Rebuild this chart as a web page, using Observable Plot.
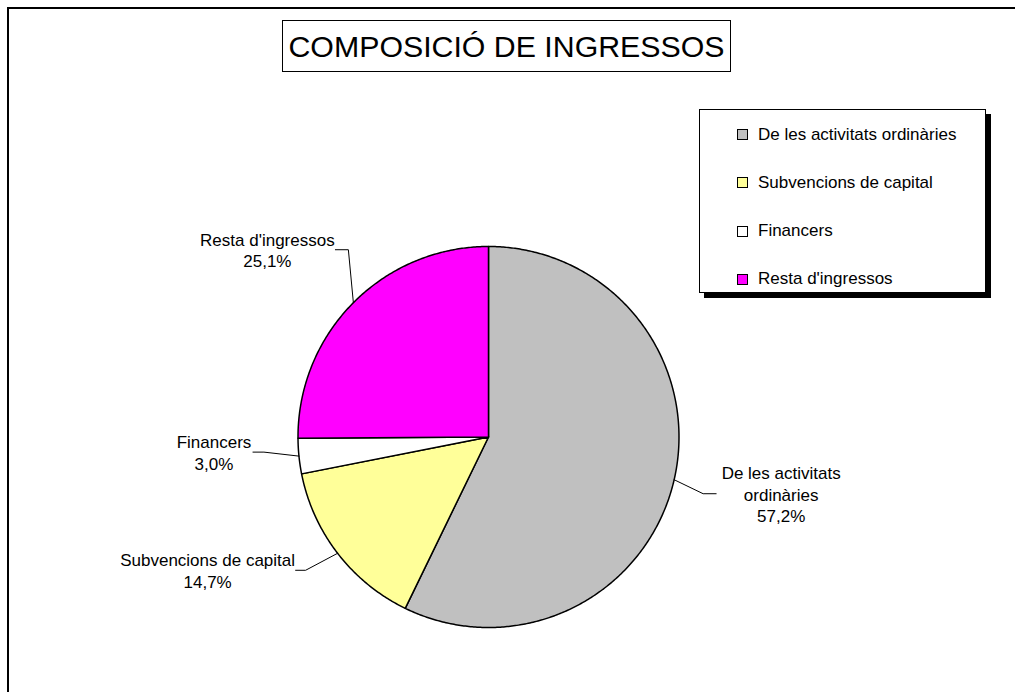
<!DOCTYPE html>
<html>
<head>
<meta charset="utf-8">
<script src="https://cdn.jsdelivr.net/npm/d3@7"></script>
<script src="https://cdn.jsdelivr.net/npm/@observablehq/plot@0.6"></script>
<style>
  html, body { margin: 0; padding: 0; background: #fff; }
  body { font-family: "Liberation Sans", Arial, sans-serif; }
  #wrap { position: relative; width: 1015px; height: 692px; overflow: hidden; background: #fff; }
  #frame { position: absolute; left: 7px; top: 7px; width: 1100px; height: 800px;
           border-left: 2px solid #000; border-top: 2px solid #000; }
  #chart { position: absolute; left: 0; top: 0; }
  #title { position: absolute; left: 282px; top: 20px; width: 447px; height: 50px;
           border: 1px solid #000; background: #fff; text-align: center;
           font-size: 30.3px; line-height: 51px; color: #000; white-space: nowrap; }
  #legend { position: absolute; left: 699px; top: 109px; width: 285px; height: 182px;
            border: 1.5px solid #000; background: #fff; box-shadow: 5px 5px 0 #000; }
  .item { position: absolute; left: 37px; height: 20px; display: flex; align-items: center;
          font-size: 17px; color: #000; white-space: nowrap; }
  .sw { width: 9px; height: 9px; border: 1px solid #000; margin-right: 10px; flex: none; }
</style>
</head>
<body>
<div id="wrap">
  <div id="frame"></div>
  <div id="chart"></div>
  <div id="title"></div>
  <div id="legend"></div>
</div>
<script>
// ---- data ----
const title = "COMPOSICIÓ DE INGRESSOS";
const categories = ["De les activitats ordinàries", "Subvencions de capital", "Financers", "Resta d'ingressos"];
const shares = [57.2, 14.7, 3.0, 25.1];
const percentLabels = ["57,2%", "14,7%", "3,0%", "25,1%"];
const sliceLabels = ["De les activitats\nordinàries", "Subvencions de capital", "Financers", "Resta d'ingressos"];
const colors = ["#C0C0C0", "#FFFF99", "#FFFFFF", "#FF00FF"];

// ---- layout (pixels) ----
const R = 190.5;
const leaderLayout = [
  {elbow: [29, 14], run: 13, dx: 65},
  {elbow: [-32, 17], run: -10, dx: -88},
  {elbow: [-35, -4], run: -11, dx: -39},
  {elbow: [-5, -53], run: -13, dx: -68}
];

const arcs = d3.pie().sort(null).value(d => d)(shares);

const slices = arcs.map(a => {
  const n = Math.max(2, Math.ceil((a.endAngle - a.startAngle) / (Math.PI / 360)));
  const pts = [{x: 0, y: 0}];
  for (let k = 0; k <= n; k++) {
    const t = a.startAngle + (a.endAngle - a.startAngle) * k / n;
    pts.push({x: Math.sin(t), y: Math.cos(t)});
  }
  return pts;
});

const leaders = arcs.map((a, i) => {
  const m = (a.startAngle + a.endAngle) / 2;
  const L = leaderLayout[i];
  const edge = {x: Math.sin(m), y: Math.cos(m)};
  const elbow = {x: edge.x + L.elbow[0] / R, y: edge.y - L.elbow[1] / R};
  const end = {x: elbow.x + L.run / R, y: elbow.y};
  return [edge, elbow, end];
});

const labelData = arcs.map((a, i) => ({
  x: leaders[i][2].x,
  y: leaders[i][2].y,
  text: sliceLabels[i] + "\n" + percentLabels[i],
  dx: leaderLayout[i].dx
}));

const W = 1015, H = 692, cx = 488, cy = 436.5;

const chart = Plot.plot({
  width: W,
  height: H,
  marginLeft: cx - R,
  marginRight: W - (cx + R),
  marginTop: cy - R,
  marginBottom: H - (cy + R),
  x: {domain: [-1, 1], axis: null},
  y: {domain: [-1, 1], axis: null},
  style: {fontFamily: "'Liberation Sans', Arial, sans-serif", background: "transparent", overflow: "visible", color: "#000"},
  marks: [
    ...slices.map((pts, i) => Plot.line(pts, {
      x: "x", y: "y", curve: "linear-closed",
      fill: colors[i], stroke: "#000", strokeWidth: 1.5, strokeLinejoin: "round"
    })),
    ...leaders.map(pts => Plot.line(pts, {x: "x", y: "y", stroke: "#000", strokeWidth: 1})),
    ...labelData.map(d => Plot.text([d], {
      x: "x", y: "y", text: "text", dx: d.dx,
      textAnchor: "middle", lineAnchor: "middle", lineHeight: 1.25,
      fontSize: 17, fill: "#000"
    }))
  ]
});
document.getElementById("chart").appendChild(chart);

document.getElementById("title").textContent = title;

const legend = document.getElementById("legend");
categories.forEach((c, i) => {
  const it = document.createElement("div");
  it.className = "item";
  it.style.top = (24 - 10 + i * 48.3 + 0.5) + "px";
  const sw = document.createElement("span");
  sw.className = "sw";
  sw.style.background = colors[i];
  const tx = document.createElement("span");
  tx.textContent = c;
  it.appendChild(sw);
  it.appendChild(tx);
  legend.appendChild(it);
});
</script>
</body>
</html>
